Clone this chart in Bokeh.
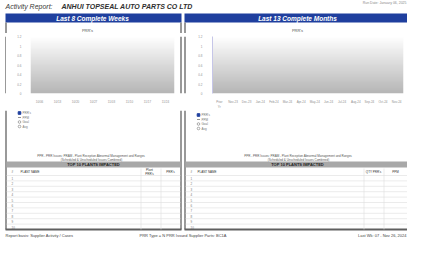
import numpy as np
from bokeh.plotting import figure
from bokeh.models import Range1d, FactorRange, FixedTicker, LinearColorMapper, CustomJSTickFormatter
from bokeh.layouts import column, row
from bokeh.core.properties import value
from bokeh.embed import file_html
from bokeh.resources import INLINE

# ---------------- data / texts ----------------
report_label = "Activity Report:"
company = "ANHUI TOPSEAL AUTO PARTS CO LTD"
run_date = "Run Date: January 06, 2025"
panel_titles = ["Last 8 Complete Weeks", "Last 13 Complete Months"]
chart_title = "PRR's"
weeks = ["10/06", "10/13", "10/20", "10/27", "11/03", "11/10", "11/17", "11/24"]
months = ["Prior\nYr", "Nov-23", "Dec-23", "Jan-24", "Feb-24", "Mar-24", "Apr-24",
          "May-24", "Jun-24", "Jul-24", "Aug-24", "Sep-24", "Oct-24", "Nov-24"]
y_ticks = [0, 0.2, 0.4, 0.6, 0.8, 1.0, 1.2]
y_max = 1.2
legend_labels = ["PRR's", "PPM", "Goal", "Avg"]
footnote_lines = ["PPR - PRR Issues;  PRAM - Plant Reception Abnormal Management and Ranges",
                  "(Scheduled & Unscheduled Issues Combined)"]
table_title = "TOP 10 PLANTS IMPACTED"
left_cols = ["#", "PLANT NAME", "Plant", "PRR's", "PRR's"]
right_cols = ["#", "PLANT NAME", "QTY PRR's", "PPM"]
ranks = [1, 2, 3, 4, 5, 6, 7, 8, 9, 10]
footer_left = "Report basis: Supplier Activity / Cases"
footer_mid = "PRR Type = N PRR Issued   Supplier Parts: BC1A"
footer_right = "Last Wk: 07 - Nov 26, 2024"

# ---------------- styles ----------------
FONT = "Liberation Sans"
NAVY = "#1f3f9e"
BORDER = "#777777"
BOTTOM_BORDER = "#606060"
GRID = "#dddddd"


def canvas(x0, x1, y0, y1):
    p = figure(width=int(x1 - x0), height=int(y1 - y0),
               x_range=Range1d(x0, x1), y_range=Range1d(y1, y0),
               x_axis_type=None, y_axis_type=None, tools="",
               toolbar_location=None, output_backend="svg", min_border=0)
    p.outline_line_color = None
    p.background_fill_color = "white"
    p.border_fill_color = "white"
    return p


def txt(p, x, y, t, size, color="#333333", align="left", style="normal"):
    p.text(x=x, y=y, text=t, text_font=value(FONT), text_font_size=size,
           text_color=color, text_align=align, text_baseline="middle",
           text_font_style=style)


# ---------------- top band ----------------
top = canvas(8, 415, 8, 41)
txt(top, [13], [13.5], [report_label], "7px", "#3a3a3a", style="italic")
txt(top, [69], [13.5], [company], "7px", "#2e2e2e", style="bold italic")
txt(top, [414], [10.5], [run_date], "3.5px", "#8a8a8a", align="right")
top.quad(left=[13, 192], right=[189, 415], top=[21, 21], bottom=[30, 30],
         fill_color=NAVY, line_color=None)
txt(top, [100, 305], [25.6, 25.6], panel_titles, "6.5px", "white", align="center",
    style="bold italic")
top.segment(x0=[13.5, 188.5, 192.5], y0=[30] * 3, x1=[13.5, 188.5, 192.5], y1=[41] * 3,
            line_color=BORDER, line_width=1.5)
txt(top, [95, 305], [37.5, 37.5], [chart_title] * 2, "4px", "#555555", align="center")

# ---------------- chart band ----------------
grad = np.linspace(0, 1, 64).reshape(64, 1)
gray_palette = ["#%02x%02x%02x" % (v, v, v) for v in np.linspace(182, 255, 64).astype(int)]
mapper = LinearColorMapper(palette=gray_palette, low=0, high=1)


def make_chart(factors, width, mb_left, mb_right, yaxis_color, standoff):
    p = figure(width=width, height=77, x_range=FactorRange(*factors),
               y_range=Range1d(0, y_max), tools="", toolbar_location=None,
               output_backend="svg", min_border_left=mb_left, min_border_right=mb_right,
               min_border_top=3, min_border_bottom=8)
    p.image(image=[grad], x=0, y=0, dw=len(factors), dh=y_max, color_mapper=mapper)
    p.grid.visible = False
    p.outline_line_color = None
    p.background_fill_color = "white"
    p.border_fill_color = "white"
    p.axis.major_label_text_font = FONT
    p.axis.major_label_text_font_size = "3px"
    p.axis.major_label_text_color = "#8f8f8f"
    p.axis.major_tick_line_color = None
    p.axis.minor_tick_line_color = None
    p.xaxis.axis_line_color = None
    p.xaxis.major_label_standoff = 1
    p.yaxis.axis_line_color = yaxis_color
    p.yaxis.ticker = FixedTicker(ticks=y_ticks)
    p.yaxis.formatter = CustomJSTickFormatter(code="return String(Math.round(tick*10)/10);")
    p.yaxis.major_label_standoff = standoff
    return p


strip_l = canvas(8, 14, 41, 118)
strip_l.segment(x0=[13.5], y0=[41], x1=[13.5], y1=[118], line_color=BORDER, line_width=1.5)
chart_l = make_chart(weeks, 173, 24, 5, None, 3)
strip_m = canvas(187, 196, 41, 118)
strip_m.segment(x0=[188.5, 192.5], y0=[41, 41], x1=[188.5, 192.5], y1=[118, 118],
                line_color=BORDER, line_width=1.5)
chart_r = make_chart(months, 219, 24, 4, "#c6c6e8", 4)

# ---------------- bottom band ----------------
bot = canvas(8, 415, 118, 246)
bot.segment(x0=[13.5, 188.5, 192.5], y0=[118] * 3, x1=[13.5, 188.5, 192.5], y1=[237] * 3,
            line_color=BORDER, line_width=1.5)
bot.segment(x0=[13, 192], y0=[237, 237], x1=[189, 415], y1=[237, 237],
            line_color=BOTTOM_BORDER, line_width=2)

# legends
for lx, ly in [(27, 120.5), (206, 122.5)]:
    ys = [ly + 4.5 * i for i in range(len(legend_labels))]
    bot.scatter(x=[lx], y=[ys[0]], marker="square", size=2.6, fill_color=NAVY, line_color=NAVY)
    bot.segment(x0=[lx - 1.5], y0=[ys[1]], x1=[lx + 1.5], y1=[ys[1]], line_color="#777777",
                line_width=0.8)
    bot.scatter(x=[lx, lx], y=ys[2:], marker="circle", size=2.6, fill_color=None,
                line_color="#777777", line_width=0.6)
    txt(bot, [lx + 3] * len(legend_labels), ys, legend_labels, "3px", "#777777")

# footnotes
for cx in [99, 306]:
    txt(bot, [cx, cx], [163, 167], footnote_lines, "3px", "#555555", align="center")

# table title bars
bot.quad(left=[14, 193], right=[188, 415], top=[169, 169], bottom=[175, 175],
         fill_color="#a8a8a8", line_color=None)
txt(bot, [101, 305], [172.2, 172.2], [table_title] * 2, "4px", "#1e1e1e", align="center",
    style="bold")

# table headers
txt(bot, [19, 28], [179.5, 179.5], left_cols[:2], "3px", "#333333")
txt(bot, [157, 157], [177.5, 181.2], left_cols[2:4], "3px", "#333333", align="center")
txt(bot, [178], [179.5], [left_cols[4]], "3px", "#333333", align="center")
txt(bot, [198, 205], [179.5, 179.5], right_cols[:2], "3px", "#333333")
txt(bot, [381, 403], [179.5, 179.5], right_cols[2:], "3px", "#333333", align="center")

# table grid
row_h = (237 - 183) / len(ranks)
line_ys = [183 + row_h * i for i in range(len(ranks))]
bot.segment(x0=[14] * len(line_ys), y0=line_ys, x1=[188] * len(line_ys), y1=line_ys,
            line_color=GRID, line_width=0.6)
bot.segment(x0=[193] * len(line_ys), y0=line_ys, x1=[415] * len(line_ys), y1=line_ys,
            line_color=GRID, line_width=0.6)
bot.segment(x0=[148.5, 168.5, 371.5, 391.5], y0=[176] * 4, x1=[148.5, 168.5, 371.5, 391.5],
            y1=[237] * 4, line_color=GRID, line_width=0.6)
row_y = [183 + row_h * (r - 0.5) for r in ranks]
txt(bot, [19] * len(ranks), row_y, [str(r) for r in ranks], "3px", "#777777")
txt(bot, [198] * len(ranks), row_y, [str(r) for r in ranks], "3px", "#777777")

# footer
txt(bot, [13], [242.5], [footer_left], "4px", "#444444")
txt(bot, [147], [242.5], [footer_mid], "4px", "#444444")
txt(bot, [414], [242.5], [footer_right], "4px", "#444444", align="right")

layout = column(top, row(strip_l, chart_l, strip_m, chart_r), bot)
open("out.html", "w").write(file_html(layout, INLINE))
